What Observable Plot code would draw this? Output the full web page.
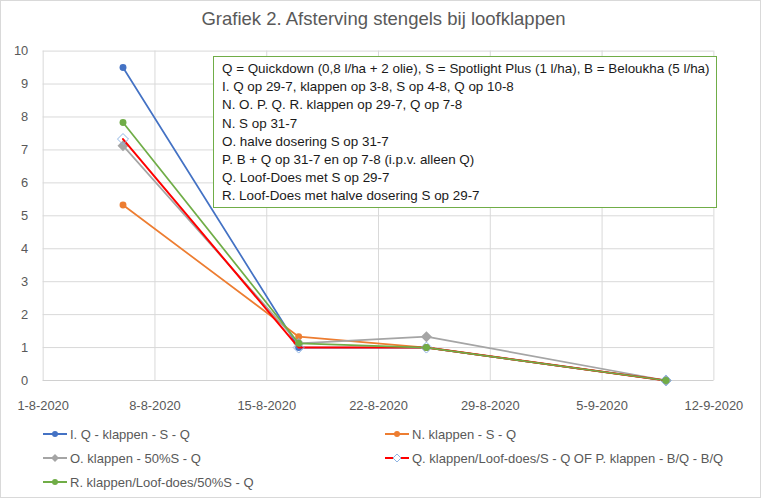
<!DOCTYPE html>
<html>
<head>
<meta charset="utf-8">
<script src="https://cdn.jsdelivr.net/npm/d3@7"></script>
<script src="https://cdn.jsdelivr.net/npm/@observablehq/plot@0.6"></script>
<style>
  html, body { margin: 0; padding: 0; background: #fff; }
  #chart { position: relative; width: 759px; height: 496px; border: 1px solid #d9d9d9; background: #fff; font-family: "Liberation Sans", Arial, sans-serif; overflow: hidden; }
  #title { position: absolute; left: 0; top: 7px; width: 765px; text-align: center; font-size: 18.5px; color: #595959; }
  #plot { position: absolute; left: 0; top: 0; }
  #note { position: absolute; left: 212px; top: 55px; width: 504px; height: 152px; border: 1.5px solid #70AD47; background: #fff; box-sizing: border-box; padding: 3px 0 0 8px; font-size: 13.4px; color: #1a1a1a; line-height: 18.2px; white-space: nowrap; }
  .leg { position: absolute; font-size: 13px; color: #595959; white-space: nowrap; display: flex; align-items: center; }
  .leg svg { margin-right: 2px; }
</style>
</head>
<body>
<div id="chart">
  <div id="plot"></div>
  <div id="title"></div>
  <div id="note"></div>
  <div id="legend"></div>
</div>
<script>
// ---- data ----
const titleText = "Grafiek 2. Afsterving stengels bij loofklappen";
const dates = ["2020-08-06", "2020-08-17", "2020-08-25", "2020-09-09"];
const seriesNames = [
  "I. Q - klappen - S - Q",
  "N. klappen - S - Q",
  "O. klappen - 50%S - Q",
  "Q. klappen/Loof-does/S - Q OF P. klappen - B/Q - B/Q",
  "R. klappen/Loof-does/50%S - Q"
];
const valuesI = [9.5, 1.0, 1.0, 0];
const valuesN = [5.33, 1.33, 1.0, 0];
const valuesO = [7.13, 1.13, 1.33, 0];
const valuesQ = [7.33, 1.0, 1.0, 0];
const valuesR = [7.83, 1.13, 1.0, 0];
const xTickLabels = ["2020-08-01", "2020-08-08", "2020-08-15", "2020-08-22", "2020-08-29", "2020-09-05", "2020-09-12"];
const yTickValues = [0, 1, 2, 3, 4, 5, 6, 7, 8, 9, 10];
const noteLines = [
  "Q = Quickdown (0,8 l/ha + 2 olie), S = Spotlight Plus (1 l/ha), B = Beloukha (5 l/ha)",
  "I. Q op 29-7, klappen op 3-8, S op 4-8, Q op 10-8",
  "N. O. P. Q. R. klappen op 29-7, Q op 7-8",
  "N. S op 31-7",
  "O. halve dosering S op 31-7",
  "P. B + Q op 31-7 en op 7-8 (i.p.v. alleen Q)",
  "Q. Loof-Does met S op 29-7",
  "R. Loof-Does met halve dosering S op 29-7"
];

// ---- styles ----
const styles = [
  {color: "#4472C4", symbol: "circle", r: 3.5, fill: "#4472C4", stroke: "none", width: 1.75},
  {color: "#ED7D31", symbol: "circle", r: 3.5, fill: "#ED7D31", stroke: "none", width: 1.75},
  {color: "#A5A5A5", symbol: "diamond2", r: 5, fill: "#A5A5A5", stroke: "none", width: 1.75},
  {color: "#FF0000", symbol: "diamond2", r: 5, fill: "none", stroke: "#8FB4E3", width: 2},
  {color: "#70AD47", symbol: "circle", r: 3.5, fill: "#70AD47", stroke: "none", width: 1.75}
];

const parse = s => new Date(s + "T00:00:00Z");
const allValues = [valuesI, valuesN, valuesO, valuesQ, valuesR];
const rows = allValues.flatMap((vals, si) => vals.map((v, i) => ({series: seriesNames[si], si, date: parse(dates[i]), value: v})));
const xTicks = xTickLabels.map(parse);
const fmt = d => `${d.getUTCDate()}-${d.getUTCMonth() + 1}-${d.getUTCFullYear()}`;

document.getElementById("title").textContent = titleText;
document.getElementById("note").innerHTML = noteLines.map(l => `<div>${l}</div>`).join("");

const seriesMarks = styles.flatMap((st, si) => {
  const data = rows.filter(r => r.si === si);
  return [
    Plot.line(data, {x: "date", y: "value", stroke: st.color, strokeWidth: st.width}),
    Plot.dot(data, {x: "date", y: "value", symbol: () => st.symbol, r: st.r, fill: st.fill, stroke: st.stroke, strokeWidth: 1})
  ];
});

const plot = Plot.plot({
  width: 765,
  height: 420,
  marginLeft: 42,
  marginRight: 47,
  marginTop: 50,
  marginBottom: 38,
  style: {fontFamily: "Liberation Sans, Arial, sans-serif", fontSize: "13px", color: "#595959", background: "transparent"},
  x: {type: "utc", domain: [xTicks[0], xTicks[xTicks.length - 1]], label: null},
  y: {domain: [0, 10], label: null},
  symbol: {type: "identity"},
  marks: [
    Plot.gridY(yTickValues, {stroke: "#d9d9d9", strokeOpacity: 1}),
    Plot.gridX(xTicks, {stroke: "#d9d9d9", strokeOpacity: 1}),
    Plot.ruleY([0], {stroke: "#d0d0d0"}),
    Plot.axisX(xTicks, {tickSize: 0, tickPadding: 20, tickFormat: fmt, fill: "#595959", label: null}),
    Plot.axisY(yTickValues, {tickSize: 0, tickPadding: 15, fill: "#595959", label: null}),
    ...seriesMarks
  ]
});
document.getElementById("plot").appendChild(plot);

// ---- legend ----
const legendPos = [[42, 433], [384, 433], [42, 457], [384, 457], [42, 481]];
const legend = document.getElementById("legend");
seriesNames.forEach((name, i) => {
  const st = styles[i];
  const div = document.createElement("div");
  div.className = "leg";
  div.style.left = legendPos[i][0] + "px";
  div.style.top = (legendPos[i][1] - 9) + "px";
  let marker;
  if (st.symbol === "circle") marker = `<circle cx="12" cy="9" r="3" fill="${st.fill}"/>`;
  else marker = `<path d="M12,5 L16,9 L12,13 L8,9 Z" fill="${st.fill === 'none' ? 'white' : st.fill}" stroke="${st.stroke}" stroke-width="1"/>`;
  div.innerHTML = `<svg width="25" height="18"><line x1="0" y1="9" x2="24" y2="9" stroke="${st.color}" stroke-width="2"/>${marker}</svg><span>${name}</span>`;
  legend.appendChild(div);
});
</script>
</body>
</html>
